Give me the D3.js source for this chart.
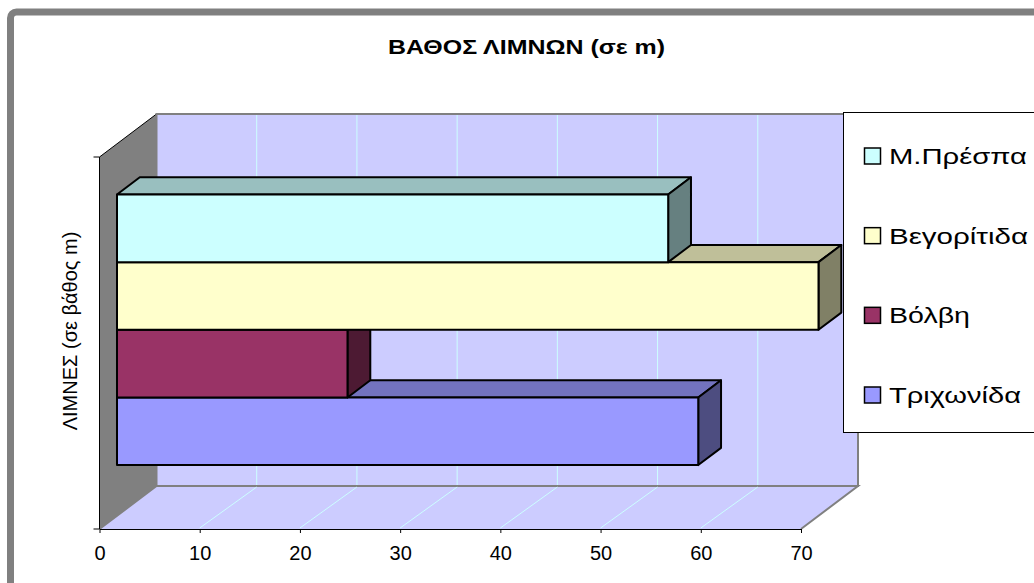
<!DOCTYPE html>
<html>
<head>
<meta charset="utf-8">
<script src="https://cdn.jsdelivr.net/npm/d3@7"></script>
<style>
  body { margin: 0; background: #fff; }
  text { font-family: "Liberation Sans", Arial, sans-serif; }
</style>
</head>
<body>
<div id="chart"></div>
<script>
// series (one category, four lakes), bottom to top as drawn
var lakes = ["Τριχωνίδα", "Βόλβη", "Βεγορίτιδα", "Μ.Πρέσπα"];
var depths = [58, 23, 70, 55];
var colors = ["#9999FF", "#993366", "#FFFFCC", "#CCFFFF"];
var tickValues = [0, 10, 20, 30, 40, 50, 60, 70];

var width = 1034, height = 583;
var DX = 57, DY = -43;          // 3d depth offset of the walls
var barF0 = 0.307, barF1 = 0.707; // bar front/back depth fraction
// legend labels are drawn wide in the original
var legendTextLen = { "Μ.Πρέσπα": 138, "Βεγορίτιδα": 139, "Βόλβη": 81, "Τριχωνίδα": 132 };

var svg = d3.select("#chart").append("svg")
  .attr("width", width)
  .attr("height", height);

// outer frame
svg.append("rect")
  .attr("x", 10.5).attr("y", 12)
  .attr("width", 1040).attr("height", 600)
  .attr("rx", 6)
  .style("fill", "#fff")
  .style("stroke", "#808080")
  .style("stroke-width", 7);

svg.append("text")
  .attr("x", 526.5).attr("y", 54)
  .attr("text-anchor", "middle")
  .attr("textLength", 277)
  .attr("lengthAdjust", "spacingAndGlyphs")
  .style("font-size", "20px")
  .style("font-weight", "bold")
  .text("ΒΑΘΟΣ ΛΙΜΝΩΝ (σε m)");

var x = d3.scaleLinear().domain([0, 70]).range([99.5, 801]);
var yTop = 157, yBot = 529;

// bars are series of a single category
var y = d3.scaleBand()
  .domain(lakes.slice().reverse())
  .range([yTop, yBot])
  .paddingInner(0)
  .paddingOuter(0.75);

// left wall
svg.append("path")
  .attr("d", d3.line()([[x(0), yTop], [x(0) + DX, yTop + DY], [x(0) + DX, yBot + DY], [x(0), yBot]]))
  .style("fill", "#808080");
svg.append("line")
  .attr("x1", x(0)).attr("y1", yTop).attr("x2", x(0) + DX).attr("y2", yTop + DY)
  .style("stroke", "#000").style("stroke-width", 1);

// back wall
svg.append("rect")
  .attr("x", x(0) + DX).attr("y", yTop + DY)
  .attr("width", x(70) - x(0)).attr("height", yBot - yTop)
  .style("fill", "#CCCCFF")
  .style("stroke", "#808080")
  .style("stroke-width", 2);

// floor
svg.append("path")
  .attr("d", d3.line()([[x(0), yBot], [x(0) + DX, yBot + DY], [x(70) + DX, yBot + DY], [x(70), yBot]]))
  .style("fill", "#CCCCFF")
  .style("stroke", "#808080")
  .style("stroke-width", 2);

// gridlines
var grid = tickValues.slice(1, -1);
svg.selectAll(".gridBack").data(grid).enter().append("line")
  .attr("x1", function(d) { return x(d) + DX; })
  .attr("x2", function(d) { return x(d) + DX; })
  .attr("y1", yTop + DY + 1).attr("y2", yBot + DY - 1)
  .style("stroke", "#CCFFFF").style("stroke-width", 1);
svg.selectAll(".gridFloor").data(grid).enter().append("line")
  .attr("x1", function(d) { return x(d); })
  .attr("y1", yBot - 1)
  .attr("x2", function(d) { return x(d) + DX; })
  .attr("y2", yBot + DY + 1)
  .style("stroke", "#CCFFFF").style("stroke-width", 1);

// bars, drawn bottom to top so the upper ones cover lower top faces
function shade(c, k) {
  var r = d3.rgb(c);
  return d3.rgb(r.r * k, r.g * k, r.b * k).toString();
}
lakes.forEach(function(name, i) {
  var fx = DX * barF0, fy = DY * barF0;
  var bx = DX * (barF1 - barF0), by = DY * (barF1 - barF0);
  var x0 = x(0) + fx, x1 = x(depths[i]) + fx;
  var y0 = y(name) + fy, y1 = y0 + y.bandwidth();
  var g = svg.append("g")
    .style("stroke", "#000")
    .style("stroke-width", 2)
    .style("stroke-linejoin", "round");
  g.append("path") // top
    .attr("d", d3.line()([[x0, y0], [x0 + bx, y0 + by], [x1 + bx, y0 + by], [x1, y0]]) + "Z")
    .style("fill", shade(colors[i], 0.75));
  g.append("path") // side
    .attr("d", d3.line()([[x1, y0], [x1 + bx, y0 + by], [x1 + bx, y1 + by], [x1, y1]]) + "Z")
    .style("fill", shade(colors[i], 0.5));
  g.append("rect") // front
    .attr("x", x0).attr("y", y0)
    .attr("width", x1 - x0).attr("height", y1 - y0)
    .style("fill", colors[i]);
});

// axes
var xAxis = svg.append("g")
  .attr("transform", "translate(0," + yBot + ")")
  .call(d3.axisBottom(x).tickValues(tickValues).tickSize(4).tickPadding(13).tickSizeOuter(0));
xAxis.selectAll("text").style("font-size", "20px").style("fill", "#000")
  .style("font-family", "'Liberation Sans', Arial, sans-serif");
xAxis.selectAll("line, path").style("stroke", "#000");

svg.append("line")
  .attr("x1", x(0)).attr("x2", x(0)).attr("y1", yTop).attr("y2", yBot)
  .style("stroke", "#000");
svg.selectAll(".ytick").data([yTop, yBot]).enter().append("line")
  .attr("x1", x(0) - 6).attr("x2", x(0))
  .attr("y1", function(d) { return d; }).attr("y2", function(d) { return d; })
  .style("stroke", "#000");

svg.append("text")
  .attr("transform", "translate(77,331) rotate(-90)")
  .attr("text-anchor", "middle")
  .style("font-size", "20px")
  .text("ΛΙΜΝΕΣ (σε βάθος m)");

// legend
var legend = svg.append("g");
legend.append("rect")
  .attr("x", 843.5).attr("y", 112.5)
  .attr("width", 200).attr("height", 320)
  .style("fill", "#fff").style("stroke", "#000");
var legendY = d3.scalePoint().domain(lakes.slice().reverse()).range([156, 395]);
lakes.forEach(function(name, i) {
  var ly = legendY(name);
  legend.append("rect")
    .attr("x", 864.5).attr("y", ly - 8)
    .attr("width", 16).attr("height", 16)
    .style("fill", colors[i]).style("stroke", "#000").style("stroke-width", 1.5);
  legend.append("text")
    .attr("x", 889).attr("y", ly + 8)
    .attr("textLength", legendTextLen[name])
    .attr("lengthAdjust", "spacingAndGlyphs")
    .style("font-size", "22px")
    .text(name);
});
</script>
</body>
</html>
